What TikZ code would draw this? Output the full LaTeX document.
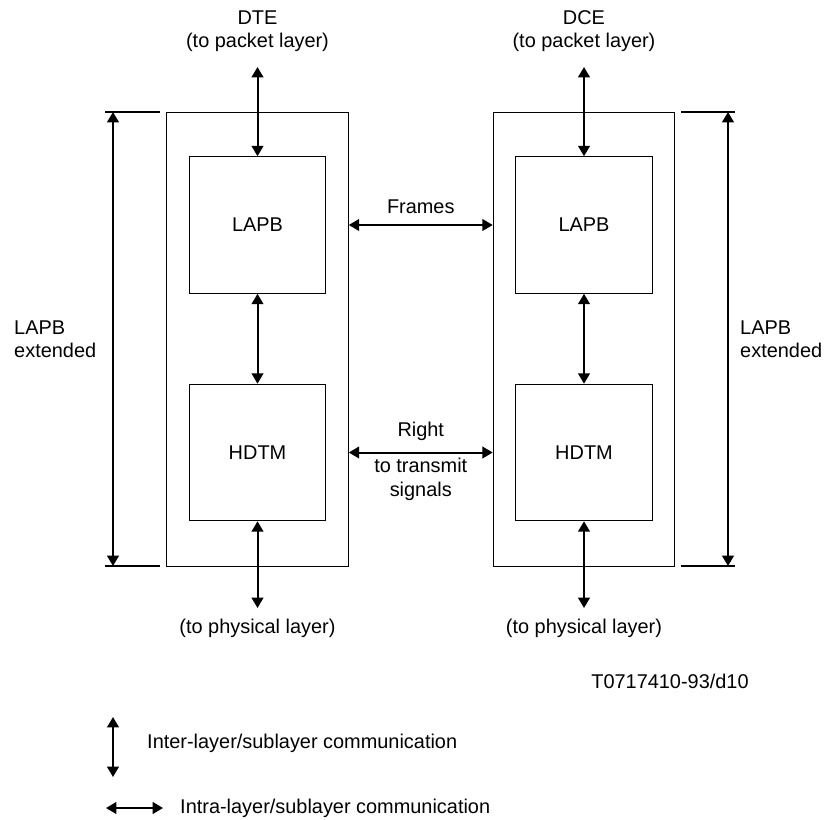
\documentclass[tikz,border=0pt]{standalone}
\usepackage{fontspec}
\setmainfont{Liberation Sans}
\usepackage{tikz}
\usetikzlibrary{arrows.meta,positioning}

\begin{document}
\begin{tikzpicture}[x=0.03cm, y=-0.03cm,
    every node/.style={font=\fontsize{17}{20}\selectfont, align=center, inner sep=0pt},
    outer/.style={draw, line width=0.8pt, minimum width=5.45cm, minimum height=13.62cm},
    layer/.style={draw, line width=0.8pt, minimum width=4.1cm, minimum height=4.1cm},
    link/.style={line width=1.7pt, {Triangle[length=3.1mm,width=3.5mm]}-{Triangle[length=3.1mm,width=3.5mm]}},
    tick/.style={line width=1.7pt}]
    \useasboundingbox (0,0) rectangle (824,819);

    % the two stations
    \node[outer] (outerL) at (257.5,339) {};
    \node[outer] (outerR) at (584,339) {};
    \node[layer] (lapbL) at (257.5,225) {LAPB};
    \node[layer] (hdtmL) at (257.5,452.5) {HDTM};
    \node[layer] (lapbR) at (584,225) {LAPB};
    \node[layer] (hdtmR) at (584,452.5) {HDTM};

    % upper and lower layers
    \node (dte) at (257.5,31) {DTE\\(to packet layer)};
    \node (dce) at (584,31) {DCE\\(to packet layer)};
    \coordinate (dteEnd) at (257.5,67);
    \coordinate (dceEnd) at (584,67);
    \node (physL) at (257.5,628) {(to physical layer)};
    \node (physR) at (584,628) {(to physical layer)};
    \coordinate (physLEnd) at (257.5,608);
    \coordinate (physREnd) at (584,608);

    \draw[link] (dteEnd) -- (lapbL.north);
    \draw[link] (lapbL.south) -- (hdtmL.north);
    \draw[link] (hdtmL.south) -- (physLEnd);
    \draw[link] (dceEnd) -- (lapbR.north);
    \draw[link] (lapbR.south) -- (hdtmR.north);
    \draw[link] (hdtmR.south) -- (physREnd);

    % peer communication
    \draw[link] (outerL.east |- lapbL) -- node[above=9pt] (frames) {Frames} (outerR.west |- lapbR);
    \draw[link] (outerL.east |- hdtmL) -- node[above=9pt] (right) {Right}
        node[below=4pt] (transmit) {to transmit\\signals} (outerR.west |- hdtmR);

    % extent of LAPB extended
    \coordinate (dimLtop) at (113,112);
    \coordinate (dimLbot) at (113,566);
    \coordinate (dimRtop) at (728,112);
    \coordinate (dimRbot) at (728,566);
    \draw[tick] (105,112) -- (160,112);
    \draw[tick] (105,566) -- (160,566);
    \draw[tick] (681,112) -- (735,112);
    \draw[tick] (681,566) -- (735,566);
    \draw[link] (dimLtop) -- (dimLbot);
    \draw[link] (dimRtop) -- (dimRbot);
    \node[anchor=west, align=left] (extL) at (14,339) {LAPB\\extended};
    \node[anchor=west, align=left] (extR) at (740,339) {LAPB\\extended};

    \node (ref) at (670,681) {T0717410-93/d10};

    % legend
    \coordinate (legVtop) at (113,717);
    \coordinate (legVbot) at (113,777);
    \coordinate (legHl) at (106,808);
    \coordinate (legHr) at (163,808);
    \draw[link] (legVtop) -- (legVbot);
    \draw[link] (legHl) -- (legHr);
    \node[anchor=west] (inter) at (147,743) {Inter-layer/sublayer communication};
    \node[anchor=west] (intra) at (180,808) {Intra-layer/sublayer communication};
  \end{tikzpicture}
\end{document}
